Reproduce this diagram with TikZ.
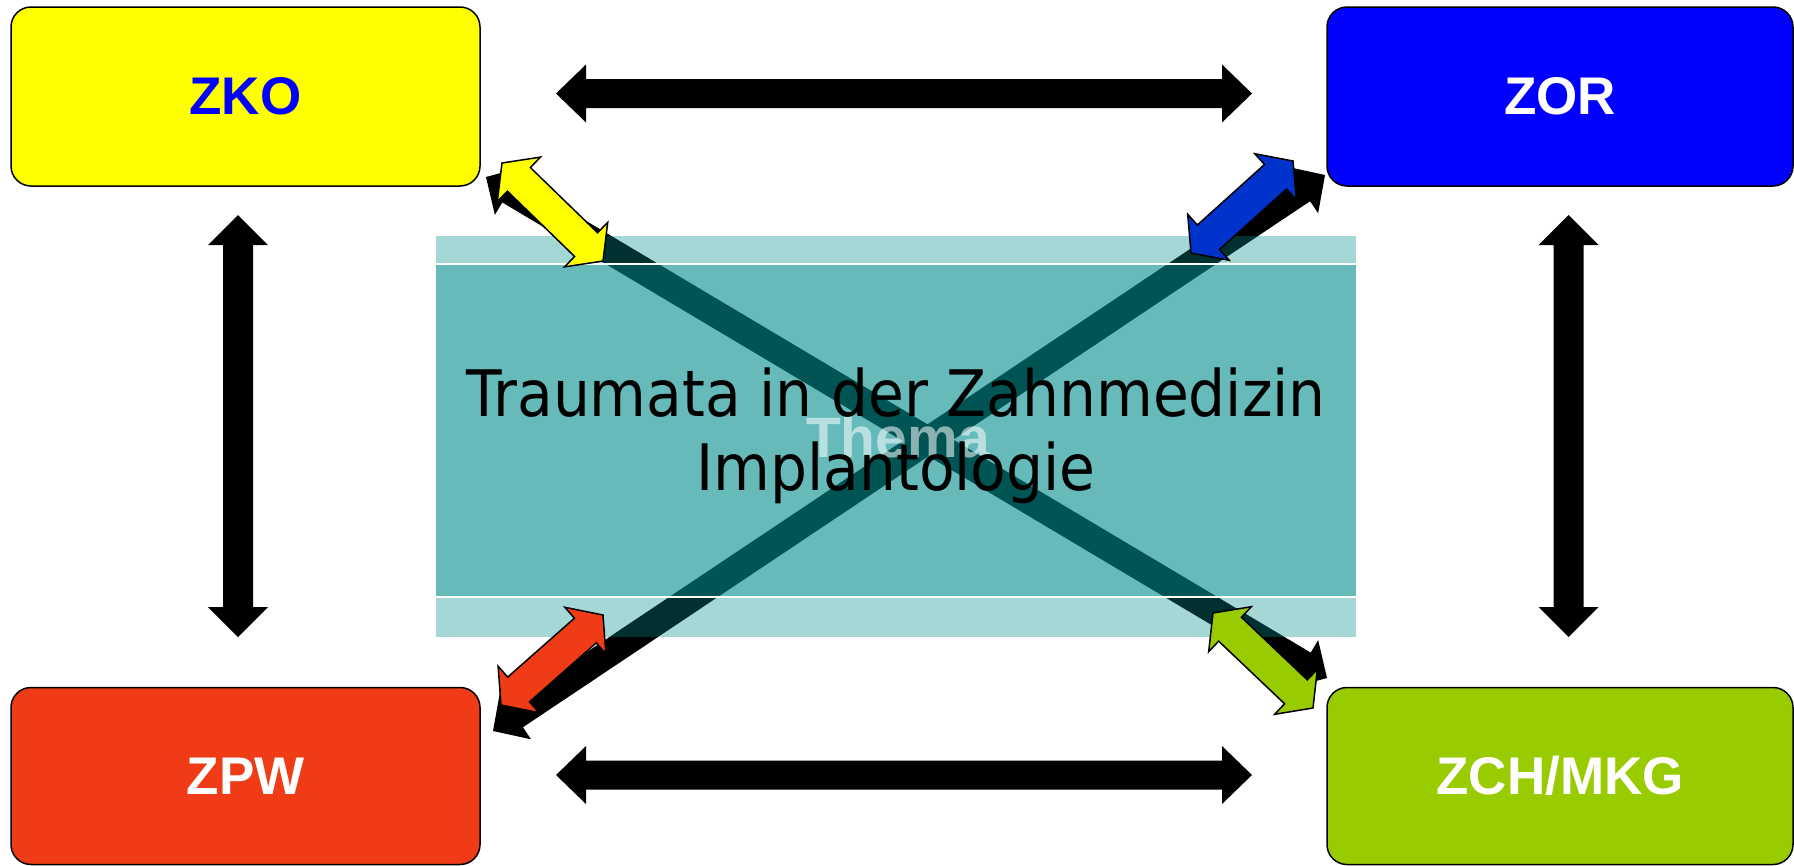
\documentclass[tikz,border=0pt]{standalone}
\usepackage{fontspec}
\setmainfont{Liberation Sans}
\newfontfamily\handfont{DejaVu Sans}
\usetikzlibrary{calc}
\definecolor{zyellow}{RGB}{255,255,0}
\definecolor{zblue}{RGB}{0,0,255}
\definecolor{zred}{RGB}{240,60,22}
\definecolor{zgreen}{RGB}{153,204,0}
\definecolor{ablue}{RGB}{0,51,204}
\definecolor{tealz}{RGB}{0,140,140}
% #1 style, #2 end A, #3 end B, #4 head length, #5 head half width, #6 shaft half width
\newcommand{\dblarrow}[6]{%
  \path[#1] (#2)
   -- ($(#2)!#4!(#3)!#5!90:(#3)$)
   -- ($(#2)!#4!(#3)!#6!90:(#3)$)
   -- ($(#3)!#4!(#2)!#6!-90:(#2)$)
   -- ($(#3)!#4!(#2)!#5!-90:(#2)$)
   -- (#3)
   -- ($(#3)!#4!(#2)!#5!90:(#2)$)
   -- ($(#3)!#4!(#2)!#6!90:(#2)$)
   -- ($(#2)!#4!(#3)!#6!-90:(#3)$)
   -- ($(#2)!#4!(#3)!#5!-90:(#3)$)
   -- cycle;}
\begin{document}
\begin{tikzpicture}[x=1pt,y=-1pt,
  box/.style={draw=black, line width=1.5pt, rounded corners=20pt,
    minimum width=469pt, minimum height=179pt, inner sep=0pt,
    font=\fontsize{53}{60}\selectfont\bfseries},
  blackarrow/.style={fill=black},
  colarrow/.style={draw=black, line width=1.5pt, line join=miter}]
\useasboundingbox (0,0) rectangle (1794,865);

% boxes
\node[box, fill=zyellow, text=zblue] (zko) at (245.5,96.5) {ZKO};
\node[box, fill=zblue, text=white, minimum width=466pt] (zor) at (1560,96.5) {ZOR};
\node[box, fill=zred, text=white, minimum height=177pt] (zpw) at (245.5,776) {ZPW};
\node[box, fill=zgreen, text=white, minimum width=466pt, minimum height=177pt] (zch) at (1560,776) {ZCH/MKG};

% arrow end points
\coordinate (tl) at (556,93.5);   \coordinate (tr) at (1252,93.5);
\coordinate (bl) at (556,775);    \coordinate (br) at (1252,775);
\coordinate (lt) at (238,215);    \coordinate (lb) at (238,637);
\coordinate (rt) at (1568.5,215); \coordinate (rb) at (1568.5,637);
\coordinate (d1a) at (486,177);   \coordinate (d1b) at (1327,678);
\coordinate (d2a) at (1325,175);  \coordinate (d2b) at (493,731);
\coordinate (ya) at (502,163);    \coordinate (yb) at (603,261);
\coordinate (ba) at (1293,161);   \coordinate (bb) at (1191,253);
\coordinate (ra) at (603,615);    \coordinate (rb2) at (501,705);
\coordinate (ga) at (1213,613);   \coordinate (gb) at (1313,708);

% black straight arrows
\dblarrow{blackarrow}{tl}{tr}{30pt}{29pt}{14.5pt}
\dblarrow{blackarrow}{bl}{br}{30pt}{29pt}{14.5pt}
\dblarrow{blackarrow}{lt}{lb}{30pt}{30pt}{15pt}
\dblarrow{blackarrow}{rt}{rb}{30pt}{30pt}{15pt}

% black diagonal arrows
\dblarrow{blackarrow}{d1a}{d1b}{27pt}{28pt}{13.5pt}
\dblarrow{blackarrow}{d2a}{d2b}{27pt}{28pt}{13.5pt}

% translucent theme panel
\fill[tealz, opacity=0.35] (436,236) rectangle (1356,264);
\fill[tealz, opacity=0.6] (436,264) rectangle (1356,597);
\fill[tealz, opacity=0.35] (436,597) rectangle (1356,637);
\draw[white, line width=2pt] (436,264) -- (1356,264);
\draw[white, line width=2pt] (436,597) -- (1356,597);

\node[text=white, opacity=0.55, anchor=base, inner sep=0pt,
  font=\fontsize{57}{60}\selectfont\bfseries] (thema) at (898,457) {Thema};
\node[anchor=base, inner sep=0pt, font=\handfont\fontsize{58.3}{60}\selectfont]
  (title1) at (896,416) {\scalebox{1}[1.1]{Traumata in der Zahnmedizin}};
\node[anchor=base, inner sep=0pt, font=\handfont\fontsize{58.3}{60}\selectfont]
  (title2) at (896,490) {\scalebox{1}[1.1]{Implantologie}};

% coloured arrows
\dblarrow{colarrow, fill=zyellow}{ya}{yb}{23.5pt}{31pt}{16.5pt}
\dblarrow{colarrow, fill=ablue}{ba}{bb}{23.5pt}{31pt}{16.5pt}
\dblarrow{colarrow, fill=zred}{ra}{rb2}{23.5pt}{31pt}{16.5pt}
\dblarrow{colarrow, fill=zgreen}{ga}{gb}{23.5pt}{31pt}{16.5pt}
\end{tikzpicture}
\end{document}
